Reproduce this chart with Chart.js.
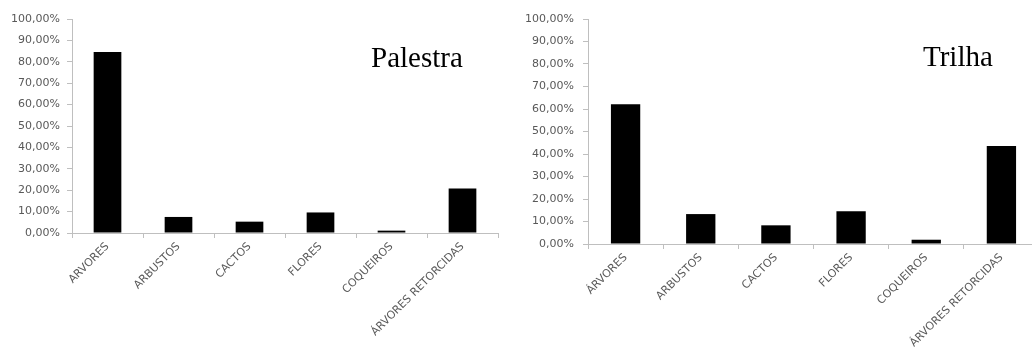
<!DOCTYPE html>
<html>
<head>
<meta charset="utf-8">
<script src="https://cdn.jsdelivr.net/npm/chart.js@4/dist/chart.umd.min.js"></script>
<style>
  html, body { margin: 0; padding: 0; background: #fff; overflow: hidden; width: 1032px; height: 358px; }
  #wrap { position: relative; width: 1032px; height: 358px; overflow: hidden; }
  canvas { position: absolute; top: 0; }
  #cPalestra { left: 0; }
  #cTrilha { left: 516px; }
  .ttl { position: absolute; font-family: "Liberation Serif", "Times New Roman", serif; font-size: 29px; line-height: 29px; color: #000; white-space: nowrap; }
</style>
</head>
<body>
<div id="wrap">
  <canvas id="cPalestra" width="505" height="358"></canvas>
  <canvas id="cTrilha" width="530" height="358"></canvas>
  <div class="ttl" style="left:371px; top:43px;">Palestra</div>
  <div class="ttl" style="left:923px; top:42px;">Trilha</div>
</div>
<script>
// Categories for each panel
const palestraLabels = ['ARVORES', 'ARBUSTOS', 'CACTOS', 'FLORES', 'COQUEIROS', 'ÁRVORES RETORCIDAS'];
const trilhaLabels = ['ÁRVORES', 'ARBUSTOS', 'CACTOS', 'FLORES', 'COQUEIROS', 'ÁRVORES RETORCIDAS'];

// Percentages per category
const palestraValues = [84.6, 7.5, 5.3, 9.6, 1.1, 20.8];
const trilhaValues = [62.1, 13.3, 8.3, 14.6, 1.9, 43.6];

// Y axis ticks (percent)
const yTicks = [0, 10, 20, 30, 40, 50, 60, 70, 80, 90, 100];

const axisGray = '#bfbfbf';
const textGray = '#595959';
const tickFont = { family: '"DejaVu Sans", sans-serif', size: 11 };

function fmtPct(v) {
  return v.toFixed(2).replace('.', ',') + '%';
}

function makeChart(id, labels, values, box) {
  return new Chart(document.getElementById(id), {
    type: 'bar',
    data: {
      labels: labels,
      datasets: [{
        data: values,
        backgroundColor: '#000000',
        borderWidth: 0,
        barPercentage: 0.39,
        categoryPercentage: 1.0
      }]
    },
    options: {
      responsive: false,
      animation: false,
      layout: { padding: { top: 19, right: box.padRight, left: 0, bottom: 0 } },
      plugins: { legend: { display: false }, tooltip: { enabled: false }, title: { display: false } },
      scales: {
        x: {
          grid: { offset: true, drawOnChartArea: false, drawTicks: true, tickLength: 5, color: axisGray },
          border: { display: true, color: axisGray, width: 1 },
          ticks: { autoSkip: false, maxRotation: 45, minRotation: 45, color: textGray, font: tickFont, padding: 2 },
          afterFit: s => { s.height = box.xHeight; }
        },
        y: {
          min: 0,
          max: 100,
          afterBuildTicks: s => { s.ticks = yTicks.map(v => ({ value: v })); },
          grid: { drawOnChartArea: false, drawTicks: true, tickLength: 5, color: axisGray },
          border: { display: true, color: axisGray, width: 1 },
          ticks: { color: textGray, font: tickFont, padding: box.yPad, callback: v => fmtPct(v) },
          afterFit: s => { s.width = box.yWidth; }
        }
      }
    }
  });
}

makeChart('cPalestra', palestraLabels, palestraValues, { padRight: 7, xHeight: 125, yWidth: 72, yPad: 7 });
makeChart('cTrilha', trilhaLabels, trilhaValues, { padRight: 7, xHeight: 114, yWidth: 72, yPad: 9 });
</script>
</body>
</html>
